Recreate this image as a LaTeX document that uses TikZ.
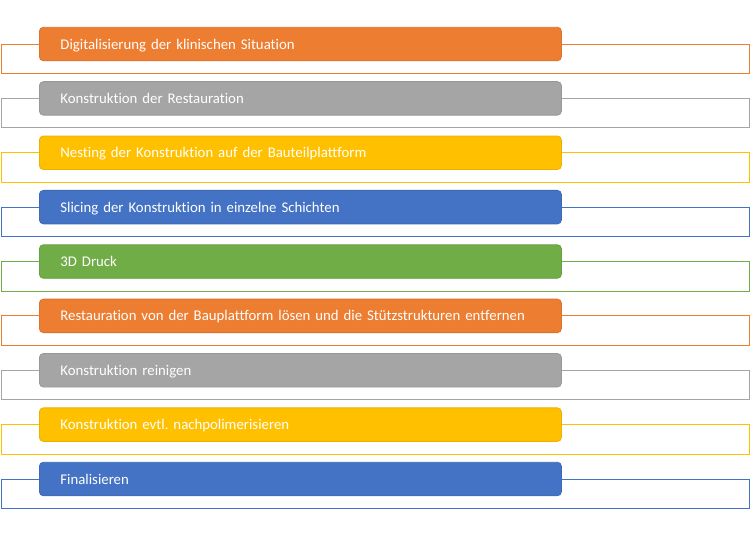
\documentclass[tikz,border=0pt]{standalone}
\usepackage{fontspec}
\setmainfont{Carlito}[RawFeature=-liga]
\frenchspacing
\definecolor{cOr}{HTML}{ED7D31}
\definecolor{cGr}{HTML}{A5A5A5}
\definecolor{cGo}{HTML}{FFC000}
\definecolor{cBl}{HTML}{4472C4}
\definecolor{cGn}{HTML}{70AD47}
\tikzset{
  stepbox/.style={draw=#1!92!black, fill=#1, line width=0.8pt, rounded corners=4pt,
    text=white, font=\fontsize{14.8}{17}\selectfont, anchor=west, inner xsep=21pt,
    text width=480pt, align=left, minimum height=33.5pt, text depth=0.1pt},
  frameline/.style={draw=#1, line width=1pt}
}
\begin{document}
\begin{tikzpicture}[x=1pt,y=-1pt]
\useasboundingbox (0,0) rectangle (750,536);
\foreach \i/\c/\t in {
  1/cOr/{Digitalisierung der klinischen Situation},
  2/cGr/{Konstruktion der Restauration},
  3/cGo/{Nesting der Konstruktion auf der Bauteilplattform},
  4/cBl/{Slicing der Konstruktion in einzelne Schichten},
  5/cGn/{3D Druck},
  6/cOr/{Restauration von der Bauplattform lösen und die Stützstrukturen entfernen},
  7/cGr/{Konstruktion reinigen},
  8/cGo/{Konstruktion evtl. nachpolimerisieren},
  9/cBl/{Finalisieren}} {
  \coordinate (a\i) at (1,{44+(\i-1)*54.375});
  \coordinate (b\i) at (749,{44+(\i-1)*54.375+29.5});
  \draw[frameline=\c] (a\i) rectangle (b\i);
  \node[stepbox=\c] (s\i) at (39,{44+(\i-1)*54.375}) {\t};
}
\end{tikzpicture}
\end{document}
